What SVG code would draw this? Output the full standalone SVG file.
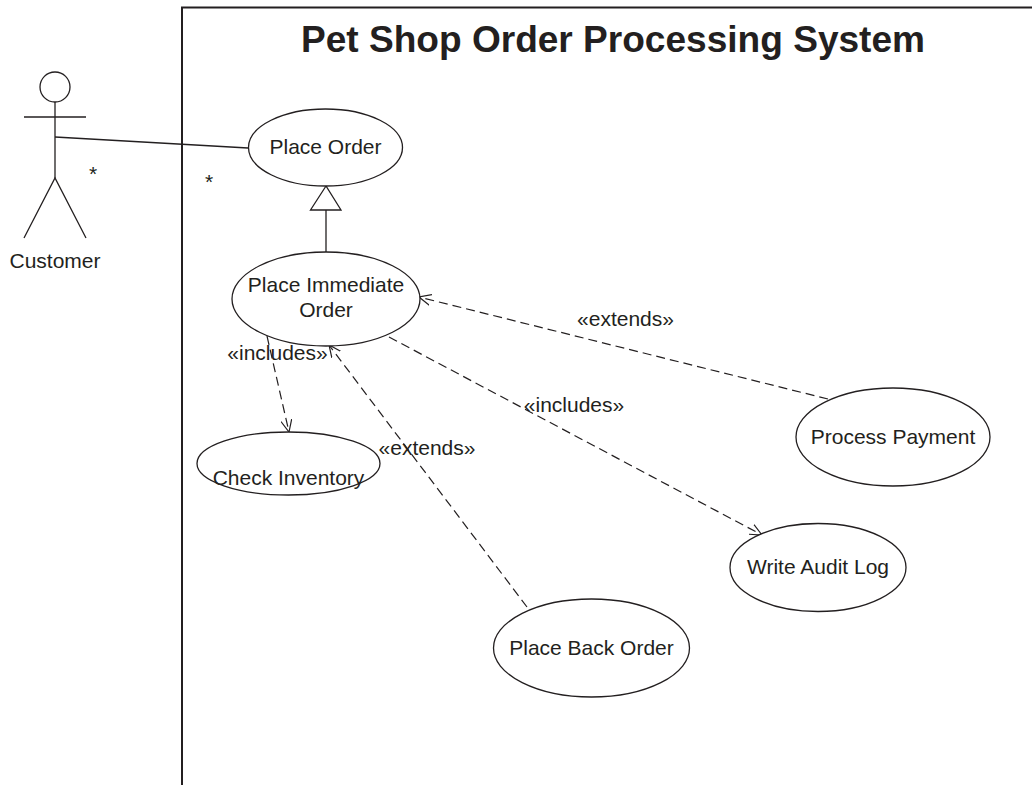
<svg xmlns="http://www.w3.org/2000/svg" width="1032" height="785" viewBox="0 0 1032 785">
<style>
.uc{fill:#fff;stroke:#231f20;stroke-width:1.3}
.lbl{font-family:"Liberation Sans",Arial,sans-serif;font-size:21px;fill:#231f20;text-anchor:middle}
.dash{fill:none;stroke:#231f20;stroke-width:1.2;stroke-dasharray:9 5}
.solid{fill:none;stroke:#231f20;stroke-width:1.3}
</style>
<defs>
<marker id="open" viewBox="0 0 12 12" refX="12" refY="6" markerWidth="12" markerHeight="12" markerUnits="userSpaceOnUse" orient="auto">
<path d="M0,0.5 L12,6 L0,11.5" fill="none" stroke="#231f20" stroke-width="1.2"/>
</marker>
</defs>
<rect width="1032" height="785" fill="#fff"/>
<g id="system">
<path d="M182,785 L182,7.5 L1032,7.5" fill="none" stroke="#231f20" stroke-width="2"/>
<text x="613" y="52" textLength="624" lengthAdjust="spacingAndGlyphs" style="font-family:'Liberation Sans',Arial,sans-serif;font-size:36.5px;font-weight:bold;fill:#231f20" text-anchor="middle">Pet Shop Order Processing System</text>
</g>
<g id="connectors">
<line class="solid" x1="55" y1="137" x2="248" y2="148"/>
<text class="lbl" x="93" y="181">*</text>
<text class="lbl" x="209" y="189">*</text>
<line class="solid" x1="326" y1="210" x2="326" y2="252"/>
<polygon points="326,186 310.5,210 341,210" fill="#fff" stroke="#231f20" stroke-width="1.3"/>
<line class="dash" x1="267" y1="336" x2="289" y2="432" marker-end="url(#open)"/>
<text class="lbl" x="277.5" y="360">«includes»</text>
<line class="dash" x1="389" y1="337" x2="762" y2="535" marker-end="url(#open)"/>
<text class="lbl" x="574" y="412">«includes»</text>
<line class="dash" x1="828" y1="399" x2="419" y2="297" marker-end="url(#open)"/>
<text class="lbl" x="625.5" y="326">«extends»</text>
<line class="dash" x1="527" y1="607" x2="329" y2="345" marker-end="url(#open)"/>
<text class="lbl" x="427" y="455">«extends»</text>
</g>
<g id="customer">
<circle class="solid" cx="55" cy="87" r="15"/>
<line class="solid" x1="55" y1="102" x2="55" y2="178"/>
<line class="solid" x1="24" y1="117" x2="86" y2="117"/>
<polyline class="solid" points="24,238 55,178 86,238"/>
<text class="lbl" x="55" y="268">Customer</text>
</g>
<g id="place-order">
<ellipse class="uc" cx="325.5" cy="147.5" rx="77" ry="38.5"/>
<text class="lbl" x="325.5" y="154">Place Order</text>
</g>
<g id="place-immediate-order">
<ellipse class="uc" cx="326" cy="299" rx="94" ry="47"/>
<text class="lbl" x="326" y="292">Place Immediate</text>
<text class="lbl" x="326" y="317">Order</text>
</g>
<g id="check-inventory">
<ellipse class="uc" cx="288.5" cy="463.5" rx="91.5" ry="31.5"/>
<text class="lbl" x="288.5" y="485">Check Inventory</text>
</g>
<g id="process-payment">
<ellipse class="uc" cx="893" cy="437" rx="97" ry="49"/>
<text class="lbl" x="893" y="444">Process Payment</text>
</g>
<g id="write-audit-log">
<ellipse class="uc" cx="818" cy="567.5" rx="88" ry="44"/>
<text class="lbl" x="818" y="574">Write Audit Log</text>
</g>
<g id="place-back-order">
<ellipse class="uc" cx="591.5" cy="648" rx="98" ry="49"/>
<text class="lbl" x="591.5" y="655">Place Back Order</text>
</g>
</svg>
